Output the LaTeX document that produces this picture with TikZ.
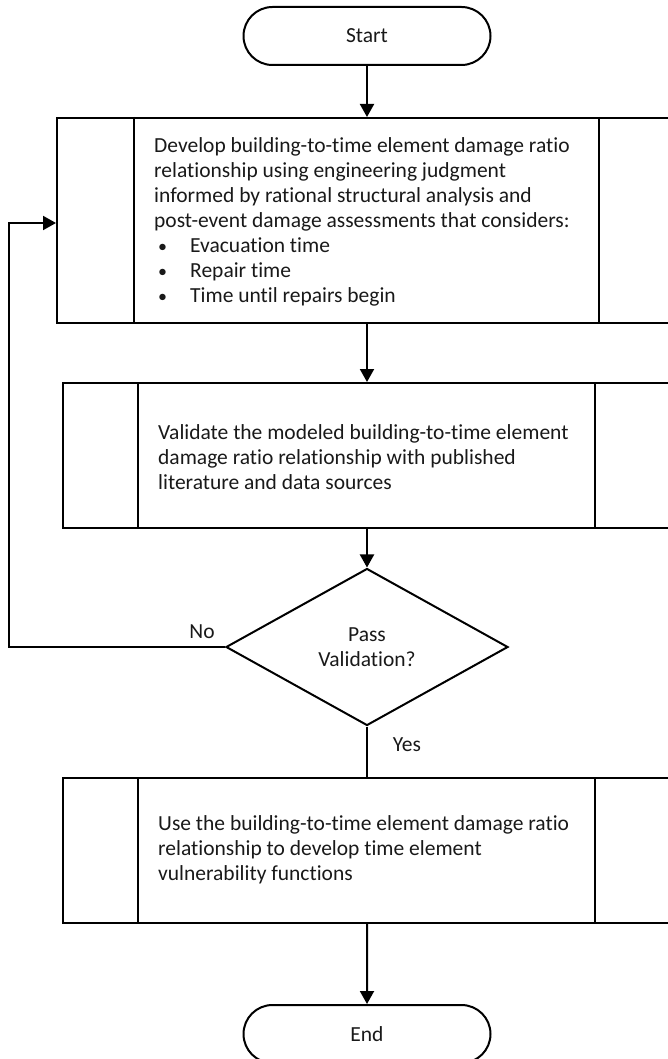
\documentclass[tikz,border=0pt]{standalone}
\usepackage{fontspec}
\setmainfont{Carlito}[Ligatures=NoCommon]
\usetikzlibrary{shapes.geometric,shapes.misc,arrows.meta}
\newcommand{\bul}{\hspace*{4pt}\makebox[32pt][l]{\fontsize{18}{25}\selectfont•}}
\begin{document}
\begin{tikzpicture}[x=1pt,y=-1pt,
  every node/.style={font=\fontsize{21.5}{25}\selectfont, text=black!90},
  line/.style={line width=2pt, black},
  arr/.style={line, -{Triangle[width=14pt,length=13pt]}},
  term/.style={rounded rectangle, draw, line width=2pt, minimum width=247pt, minimum height=58pt, inner sep=0pt},
  proc/.style={rectangle, draw, line width=2pt, inner sep=0pt},
  txt/.style={anchor=west, align=left, inner sep=0pt},
  dec/.style={diamond, draw, line width=2pt, minimum width=282pt, minimum height=157pt, inner sep=0pt, align=center}
]
\useasboundingbox (0,0) rectangle (668,1059);
\clip (0,0) rectangle (668,1059);

\node[term] (start) at (367,36) {Start};

\node[proc, minimum width=620pt, minimum height=205pt] (b1) at (367,220.5) {};
\draw[line] ([xshift=78pt]b1.north west) -- ([xshift=78pt]b1.south west);
\draw[line] ([xshift=-79pt]b1.north east) -- ([xshift=-79pt]b1.south east);
\node[txt] (t1) at (154,222) {Develop building-to-time element damage ratio\\
relationship using engineering judgment\\
informed by rational structural analysis and\\
post-event damage assessments that considers:\\
\bul Evacuation time\\
\bul Repair time\\
\bul Time until repairs begin};

\node[proc, minimum width=608pt, minimum height=145pt] (b2) at (367,455.5) {};
\draw[line] ([xshift=76pt]b2.north west) -- ([xshift=76pt]b2.south west);
\draw[line] ([xshift=-77pt]b2.north east) -- ([xshift=-77pt]b2.south east);
\node[txt] (t2) at (158,457) {Validate the modeled building-to-time element\\
damage ratio relationship with published\\
literature and data sources};

\node[dec] (dec) at (367,647) {Pass\\Validation?};

\node[proc, minimum width=608pt, minimum height=145pt] (b3) at (367,850.5) {};
\draw[line] ([xshift=76pt]b3.north west) -- ([xshift=76pt]b3.south west);
\draw[line] ([xshift=-77pt]b3.north east) -- ([xshift=-77pt]b3.south east);
\node[txt] (t3) at (158,850) {Use the building-to-time element damage ratio\\
relationship to develop time element\\
vulnerability functions};

\node[term] (end) at (367,1034) {End};

\draw[arr] (start) -- (b1);
\draw[arr] (b1) -- (b2);
\draw[arr] (b2) -- (dec);
\draw[line] (dec) -- (b3);
\draw[arr] (b3) -- (end);
\coordinate (fb) at (9.4,223);
\draw[arr] (dec.west) -| (fb) -- (b1.west |- fb);

\node (no) at (202,632) {No};
\node (yes) at (407,745) {Yes};
\end{tikzpicture}
\end{document}
